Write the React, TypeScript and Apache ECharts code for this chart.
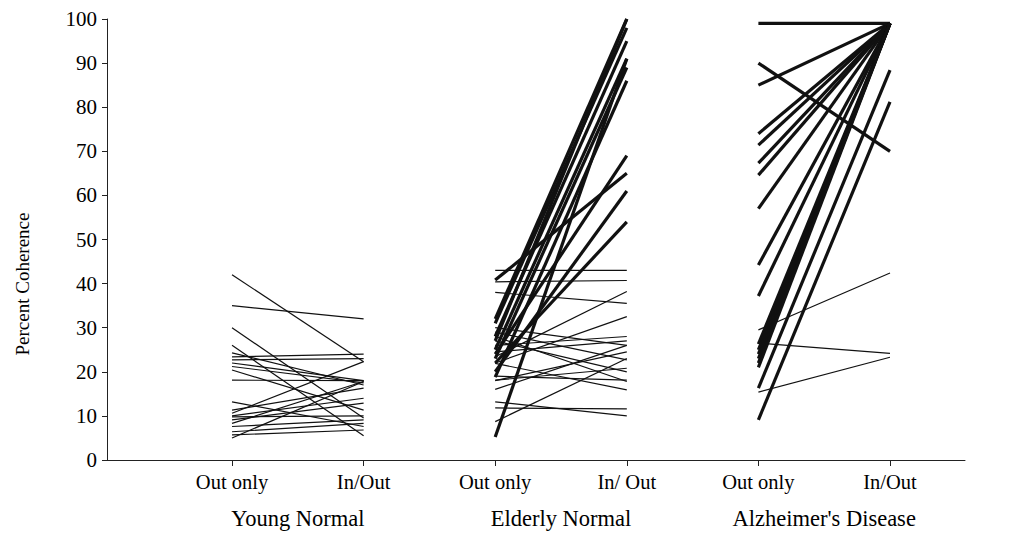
import React, { useEffect, useRef } from "react";
import * as echarts from "echarts";

// x positions: 1 = Young Out only, 2 = Young In/Out, 3 = Elderly Out only, 4 = Elderly In/Out, 5 = AD Out only, 6 = AD In/Out
const phaseLabels = ["Out only", "In/Out", "Out only", "In/ Out", "Out only", "In/Out"];
const groupLabels = ["Young Normal", "Elderly Normal", "Alzheimer's Disease"];
const yTicks = [0, 10, 20, 30, 40, 50, 60, 70, 80, 90, 100];

// Young Normal (thin lines)
const youngOut = [42, 35, 30, 26, 24.3, 23.4, 22.7, 22, 21.2, 20.4, 18.1, 13.2, 11.3, 10.6, 10, 9.8, 9.1, 8.3, 7.6, 6.4, 5.7, 5];
const youngIn = [22.3, 32, 9.5, 5.5, 17, 24, 23, 18, 17.5, 11.3, 18, 7.6, 16.3, 22.3, 14, 10, 12.9, 17.8, 9.1, 8.3, 6.8, 17.8];

// Elderly Normal thin lines
const elderlyThinOut = [43, 40.4, 38, 30, 29, 28, 27, 26, 24.5, 23.4, 22, 19, 18, 16, 13.2, 11.8, 8.7, 18.1, 21.9];
const elderlyThinIn = [43, 40.7, 35.5, 26, 22.7, 17.8, 20, 28, 27, 38.2, 32.5, 18.1, 24.5, 26, 10, 11.6, 23, 20.8, 15.9];
// Elderly Normal thick lines
const elderlyThickOut = [32, 31, 28, 25, 23, 18.8, 5.2, 40.8, 24, 20, 22, 27];
const elderlyThickIn = [100, 98, 95, 91, 89, 86, 91, 65, 69, 61, 54, 100];

// Alzheimer's Disease thin lines
const adThinOut = [29.5, 26.5, 15.4];
const adThinIn = [42.4, 24.2, 23.3];
// Alzheimer's Disease thick lines
const adThickOut = [99, 90, 85, 74, 71.4, 67.3, 64.6, 57, 44.2, 37.2, 26.3, 25, 24, 23, 22, 21, 16.3, 9.1];
const adThickIn = [99, 70, 99, 99, 99, 99, 99, 99, 99, 99, 99, 99, 99, 99, 99, 99, 88.4, 81.2];

const FONT = "'Liberation Serif', 'Times New Roman', serif";

function pairs(out: number[], inn: number[], xOut: number, width: number) {
  return out.map((v, i) => ({
    type: "line",
    data: [
      [xOut, v],
      [xOut + 1, inn[i]],
    ],
    symbol: "none",
    silent: true,
    lineStyle: { color: "#111", width },
  }));
}

export default function App() {
  const ref = useRef<HTMLDivElement>(null);
  useEffect(() => {
    if (!ref.current) return;
    const chart = echarts.init(ref.current, null, { renderer: "svg" });
    const series = [
      ...pairs(youngOut, youngIn, 1, 1.2),
      ...pairs(elderlyThinOut, elderlyThinIn, 3, 1.2),
      ...pairs(adThinOut, adThinIn, 5, 1.2),
      ...pairs(elderlyThickOut, elderlyThickIn, 3, 3.2),
      ...pairs(adThickOut, adThickIn, 5, 3.2),
    ];
    chart.setOption({
      animation: false,
      backgroundColor: "#fff",
      grid: { left: 107, right: 46, top: 19, bottom: 74, containLabel: false },
      xAxis: [
        {
          type: "value",
          min: 0.05,
          max: 6.57,
          axisLine: { show: true, lineStyle: { color: "#222", width: 1 } },
          axisTick: { show: true, customValues: [1, 2, 3, 4, 5, 6], length: 6, lineStyle: { color: "#222" } },
          axisLabel: {
            customValues: [1, 2, 3, 4, 5, 6],
            formatter: (v: number) => phaseLabels[Math.round(v) - 1] ?? "",
            fontFamily: FONT,
            fontSize: 20.5,
            color: "#000",
            margin: 11,
          },
          splitLine: { show: false },
        },
        {
          type: "value",
          position: "bottom",
          min: 0.05,
          max: 6.57,
          axisLine: { show: false },
          axisTick: { show: false },
          axisLabel: {
            customValues: [1.5, 3.5, 5.5],
            formatter: (v: number) => groupLabels[Math.round((v - 1.5) / 2)] ?? "",
            fontFamily: FONT,
            fontSize: 22.5,
            color: "#000",
            margin: 47,
          },
          splitLine: { show: false },
        },
      ],
      yAxis: {
        type: "value",
        min: yTicks[0],
        max: yTicks[yTicks.length - 1],
        interval: 10,
        axisLine: { show: true, lineStyle: { color: "#222", width: 1 } },
        axisTick: { show: true, length: 5, lineStyle: { color: "#222" } },
        axisLabel: { fontFamily: FONT, fontSize: 21, color: "#000", margin: 10 },
        splitLine: { show: false },
      },
      graphic: [
        {
          type: "text",
          x: 22,
          y: 284,
          rotation: Math.PI / 2,
          style: {
            text: "Percent Coherence",
            font: `19px ${FONT}`,
            fill: "#000",
            align: "center",
            verticalAlign: "middle",
          },
        },
      ],
      series,
    });
    return () => chart.dispose();
  }, []);
  return (
    <div
      ref={ref}
      style={{ position: "fixed", left: 0, top: 0, width: 1011, height: 534, background: "#fff" }}
    />
  );
}
